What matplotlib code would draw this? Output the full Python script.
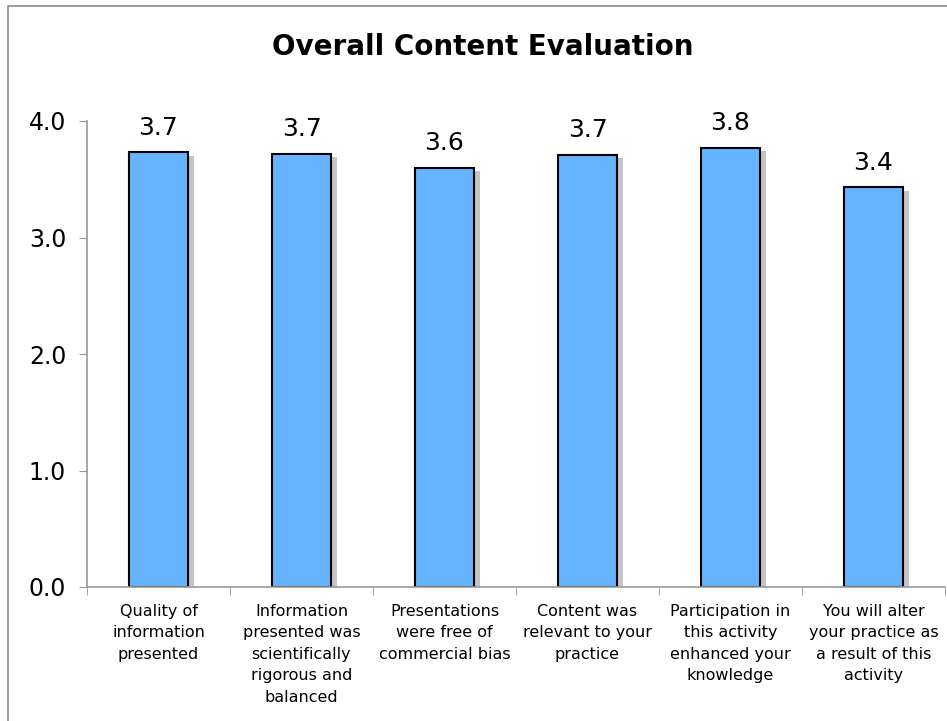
import matplotlib
matplotlib.use("Agg")
import matplotlib.pyplot as plt
from matplotlib.patches import Rectangle
import numpy as np

categories = [
    "Quality of\ninformation\npresented",
    "Information\npresented was\nscientifically\nrigorous and\nbalanced",
    "Presentations\nwere free of\ncommercial bias",
    "Content was\nrelevant to your\npractice",
    "Participation in\nthis activity\nenhanced your\nknowledge",
    "You will alter\nyour practice as\na result of this\nactivity",
]
values = [3.73, 3.72, 3.60, 3.71, 3.77, 3.43]
value_labels = ["3.7", "3.7", "3.6", "3.7", "3.8", "3.4"]
yticks = [0.0, 1.0, 2.0, 3.0, 4.0]
ytick_labels = ["0.0", "1.0", "2.0", "3.0", "4.0"]
title = "Overall Content Evaluation"

plt.rcParams['font.family'] = ['Verdana', 'DejaVu Sans']

fig = plt.figure(figsize=(9.47, 7.21), dpi=100)
ax = fig.add_axes([87/947, 1-587/721, (945-87)/947, (587-121)/721])

# figure border (top and left visible)
fig.patches.append(Rectangle((8/947, -0.1), 1.2, 1-6/721+0.1, transform=fig.transFigure,
                             fill=False, edgecolor="#8a8a8a", linewidth=1.2, zorder=0))

x = np.arange(len(categories))
w = 0.41
# shadows
ax.bar(x + 0.04, [v - 0.03 for v in values], width=w, color="#c4c4c4", edgecolor="none", zorder=1)
ax.bar(x, values, width=w, color="#66b3ff", edgecolor="black", linewidth=1.5, zorder=2)

for xi, v, lab in zip(x, values, value_labels):
    ax.annotate(lab, (xi, v), xytext=(0, 9), textcoords="offset points",
                ha="center", va="bottom", fontsize=18)

ax.set_xlim(-0.5, len(categories) - 0.5)
ax.set_ylim(0, 4)
ax.set_yticks(yticks)
ax.set_yticklabels(ytick_labels, fontsize=17)
ax.set_xticks(x)
ax.set_xticklabels(categories, fontsize=11.5, linespacing=1.55, va="top")
ax.set_xticks(np.arange(-0.5, len(categories) - 0.4, 1), minor=True)
ax.tick_params(axis="x", which="major", length=0, pad=12)
ax.tick_params(axis="x", which="minor", length=6, color="#999999", direction="out")
ax.tick_params(axis="y", length=6, color="#999999", direction="out", pad=9)

for s in ["top", "right"]:
    ax.spines[s].set_visible(False)
for s in ["left", "bottom"]:
    ax.spines[s].set_color("#999999")
    ax.spines[s].set_linewidth(1.2)

fig.text(483/947, 1-47/721, title, ha="center", va="center", fontsize=20, fontweight="bold")

fig.savefig("out.png", dpi=100)
